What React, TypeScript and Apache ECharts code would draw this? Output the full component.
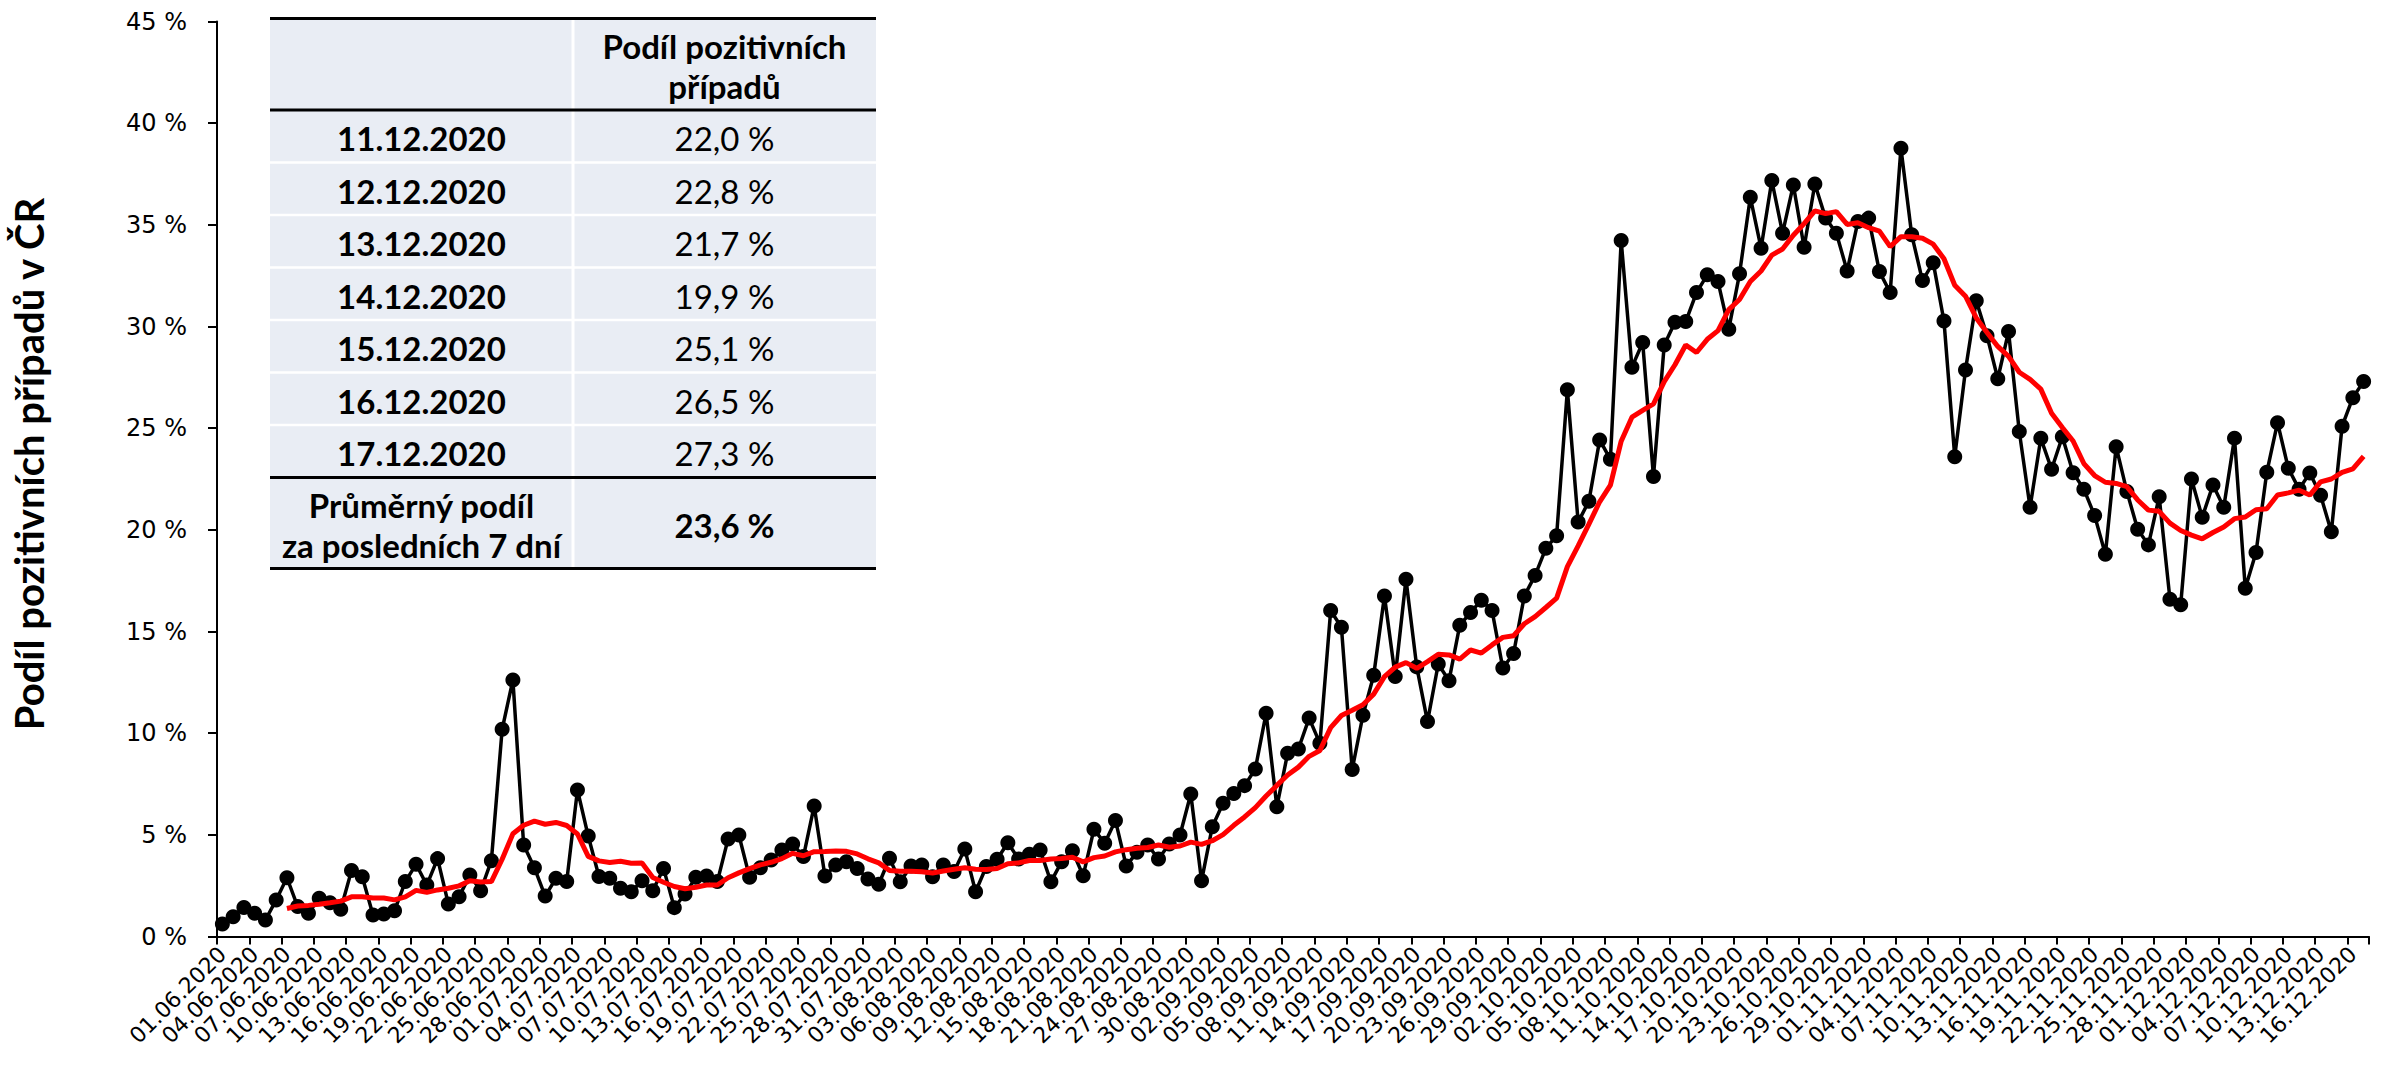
import React, { useEffect, useRef } from "react";
import * as echarts from "echarts";

// Daily share of positive tests (%), 01.06.2020 – 17.12.2020
const share: number[] = [
  0.61, 0.97, 1.43, 1.14, 0.81, 1.80, 2.89, 1.47, 1.14, 1.88,
  1.66, 1.34, 3.24, 2.94, 1.06, 1.11, 1.27, 2.70, 3.55, 2.53,
  3.83, 1.60, 1.96, 3.02, 2.25, 3.73, 10.19, 12.62, 4.50, 3.38,
  1.99, 2.86, 2.70, 7.21, 4.94, 2.95, 2.86, 2.37, 2.20, 2.74,
  2.25, 3.35, 1.42, 2.09, 2.91, 2.98, 2.70, 4.80, 4.99, 2.91,
  3.38, 3.76, 4.25, 4.55, 3.93, 6.42, 2.98, 3.52, 3.68, 3.35,
  2.83, 2.57, 3.85, 2.69, 3.47, 3.52, 2.94, 3.52, 3.20, 4.30,
  2.20, 3.44, 3.80, 4.61, 3.81, 4.04, 4.25, 2.69, 3.68, 4.22,
  2.99, 5.27, 4.59, 5.70, 3.47, 4.14, 4.50, 3.81, 4.55, 4.99,
  7.01, 2.74, 5.40, 6.55, 7.03, 7.42, 8.24, 10.98, 6.38, 9.01,
  9.22, 10.74, 9.50, 16.03, 15.21, 8.21, 10.88, 12.85, 16.75, 12.79,
  17.57, 13.26, 10.57, 13.40, 12.58, 15.31, 15.93, 16.54, 16.03, 13.20,
  13.92, 16.75, 17.76, 19.09, 19.71, 26.89, 20.38, 21.41, 24.42, 23.47,
  34.23, 28.00, 29.21, 22.62, 29.09, 30.21, 30.24, 31.67, 32.54, 32.21,
  29.87, 32.59, 36.36, 33.85, 37.18, 34.59, 36.96, 33.90, 37.01, 35.33,
  34.59, 32.73, 35.16, 35.33, 32.70, 31.67, 38.77, 34.51, 32.26, 33.14,
  30.27, 23.60, 27.86, 31.27, 29.54, 27.43, 29.75, 24.83, 21.11, 24.50,
  22.98, 24.58, 22.81, 22.00, 20.70, 18.80, 24.09, 21.88, 20.03, 19.26,
  21.63, 16.59, 16.31, 22.50, 20.62, 22.21, 21.11, 24.51, 17.13, 18.88,
  22.83, 25.27, 23.03, 22.0, 22.8, 21.7, 19.9, 25.1, 26.5, 27.3,
];

// Months covered by the category axis: [month, number of days shown]
const monthSpans: [string, number][] = [
  ["06", 30], ["07", 31], ["08", 31], ["09", 30], ["10", 31], ["11", 30], ["12", 17],
];

const yTicks = { min: 0, max: 45, interval: 5 };

const tableDates = ["11.12.2020", "12.12.2020", "13.12.2020", "14.12.2020", "15.12.2020", "16.12.2020", "17.12.2020"];
const tableValues = ["22,0 %", "22,8 %", "21,7 %", "19,9 %", "25,1 %", "26,5 %", "27,3 %"];
const tableHeader = "Podíl pozitivních\npřípadů";
const tableFooterLabel = "Průměrný podíl\nza posledních 7 dní";
const tableFooterValue = "23,6 %";
const yTitle = "Podíl pozitivních případů v ČR";

const categories: string[] = [];
monthSpans.forEach(([m, n]) => {
  for (let d = 1; d <= n; d++) categories.push(`${String(d).padStart(2, "0")}.${m}.2020`);
});

// 7-day trailing average of the daily share (the red line)
const avg7: (number | string)[] = share.map((_, i) => {
  if (i < 6) return "-";
  let s = 0;
  for (let k = i - 6; k <= i; k++) s += share[k];
  return +(s / 7).toFixed(2);
});

export default function App() {
  const ref = useRef<HTMLDivElement>(null);
  useEffect(() => {
    document.body.style.margin = "0";
    if (!ref.current) return;
    const chart = echarts.init(ref.current, null, { renderer: "svg" });

    const tL = 270, tR = 876, tDiv = 573;
    const tTop = 18.5, tHead = 110, rowH = 52.5, tFootTop = 477.5, tBot = 568.5;
    const tableFont = "Lato";
    const g: any[] = [];
    g.push({ type: "rect", shape: { x: tL, y: tTop, width: tR - tL, height: tBot - tTop }, style: { fill: "#E9EDF4" }, z: 10 });
    for (let k = 1; k < 7; k++) {
      const y = tHead + rowH * k;
      g.push({ type: "line", shape: { x1: tL, y1: y, x2: tR, y2: y }, style: { stroke: "#ffffff", lineWidth: 2.5 }, z: 11 });
    }
    g.push({ type: "line", shape: { x1: tDiv, y1: tTop, x2: tDiv, y2: tBot }, style: { stroke: "#ffffff", lineWidth: 3 }, z: 11 });
    [tTop, tHead, tFootTop, tBot].forEach((y) => {
      g.push({ type: "line", shape: { x1: tL, y1: y, x2: tR, y2: y }, style: { stroke: "#000000", lineWidth: 3 }, z: 12 });
    });
    const cL = (tL + tDiv) / 2, cR = (tDiv + tR) / 2;
    g.push({ type: "text", x: cR, y: (tTop + tHead) / 2 + 2, z: 13, style: { text: tableHeader, fontFamily: tableFont, fontWeight: "bold", fontSize: 33, lineHeight: 40, fill: "#000", align: "center", verticalAlign: "middle" } });
    tableDates.forEach((d, k) => {
      const cy = tHead + rowH * (k + 0.5) + 2;
      g.push({ type: "text", x: cL, y: cy, z: 13, style: { text: d, fontFamily: tableFont, fontWeight: "bold", fontSize: 33, fill: "#000", align: "center", verticalAlign: "middle" } });
      g.push({ type: "text", x: cR, y: cy, z: 13, style: { text: tableValues[k], fontFamily: tableFont, fontSize: 33, fill: "#000", align: "center", verticalAlign: "middle" } });
    });
    const fy = (tFootTop + tBot) / 2 + 2;
    g.push({ type: "text", x: cL, y: fy, z: 13, style: { text: tableFooterLabel, fontFamily: tableFont, fontWeight: "bold", fontSize: 33, lineHeight: 40, fill: "#000", align: "center", verticalAlign: "middle" } });
    g.push({ type: "text", x: cR, y: fy, z: 13, style: { text: tableFooterValue, fontFamily: tableFont, fontWeight: "bold", fontSize: 33, fill: "#000", align: "center", verticalAlign: "middle" } });
    g.push({ type: "text", x: 29, y: 464, rotation: Math.PI / 2, z: 13, style: { text: yTitle, fontFamily: tableFont, fontWeight: "bold", fontSize: 40, fill: "#000", align: "center", verticalAlign: "middle" } });

    chart.setOption({
      animation: false,
      backgroundColor: "#ffffff",
      grid: { left: 217, right: 13, top: 21.5, bottom: 129.5, containLabel: false },
      xAxis: {
        type: "category",
        data: categories,
        boundaryGap: true,
        axisLine: { show: true, lineStyle: { color: "#000", width: 2 } },
        axisTick: { show: true, interval: 2, alignWithLabel: false, length: 8, lineStyle: { color: "#000", width: 2 } },
        axisLabel: { interval: 2, rotate: 45, margin: 14, fontFamily: "DejaVu Sans", fontSize: 22, color: "#000" },
        splitLine: { show: false },
      },
      yAxis: {
        type: "value",
        min: yTicks.min,
        max: yTicks.max,
        interval: yTicks.interval,
        axisLine: { show: true, lineStyle: { color: "#000", width: 2 } },
        axisTick: { show: true, length: 9, lineStyle: { color: "#000", width: 2 } },
        axisLabel: { formatter: "{value} %", margin: 30, fontFamily: "DejaVu Sans", fontSize: 24, color: "#000" },
        splitLine: { show: false },
      },
      series: [
        {
          type: "line",
          data: share,
          symbol: "circle",
          symbolSize: 15,
          showAllSymbol: true,
          itemStyle: { color: "#000" },
          lineStyle: { color: "#000", width: 3.5 },
          z: 2,
        },
        {
          type: "line",
          data: avg7,
          symbol: "none",
          lineStyle: { color: "#ff0000", width: 5 },
          z: 3,
        },
      ],
      graphic: g,
    });
    return () => chart.dispose();
  }, []);
  return <div ref={ref} style={{ width: 2382, height: 1066 }} />;
}
